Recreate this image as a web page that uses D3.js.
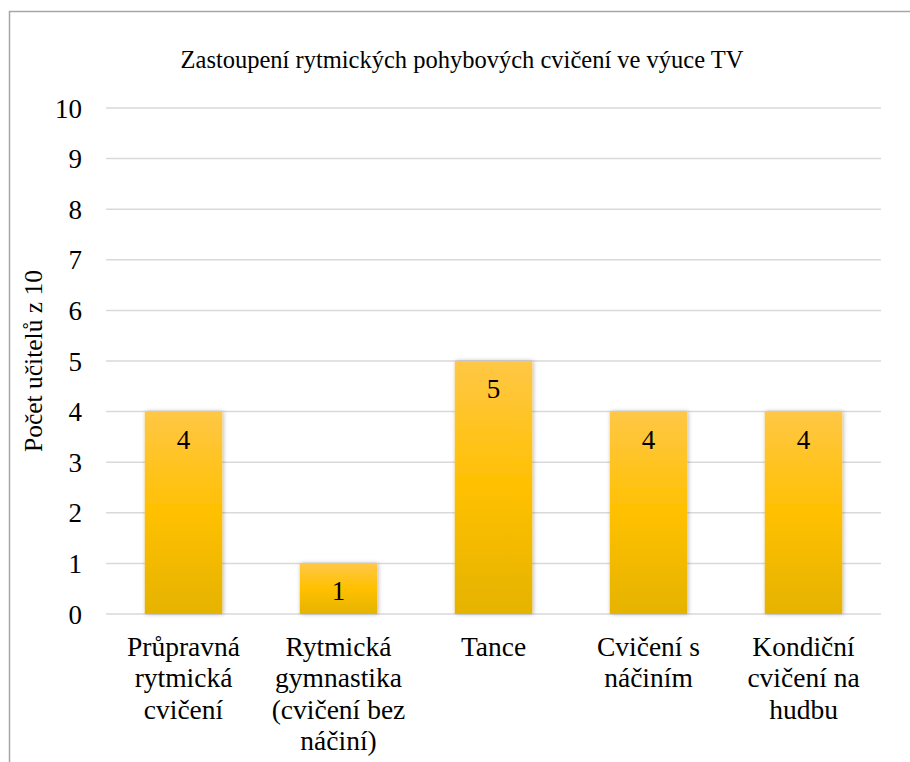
<!DOCTYPE html>
<html>
<head>
<meta charset="utf-8">
<script src="https://cdn.jsdelivr.net/npm/d3@7"></script>
</head>
<body style="margin:0">
<div id="wrapper"></div>
<script>
// data
const categories = [
  ['Průpravná', 'rytmická', 'cvičení'],
  ['Rytmická', 'gymnastika', '(cvičení bez', 'náčiní)'],
  ['Tance'],
  ['Cvičení s', 'náčiním'],
  ['Kondiční', 'cvičení na', 'hudbu'],
];
const values = [4, 1, 5, 4, 4];
const yTicks = [0, 1, 2, 3, 4, 5, 6, 7, 8, 9, 10];
const chartTitle = 'Zastoupení rytmických pohybových cvičení ve výuce TV';
const yTitle = 'Počet učitelů z 10';

const fontName = '"Times New Roman"';

const width = 910;
const height = 762;
const margin = { top: 108, right: 29, bottom: 148, left: 106 };
const boundedWidth = width - margin.left - margin.right;
const boundedHeight = height - margin.top - margin.bottom;

const svg = d3.select('#wrapper')
  .append('svg')
  .attr('width', width)
  .attr('height', height);

const defs = svg.append('defs');
const grad = defs.append('linearGradient')
  .attr('id', 'barGrad')
  .attr('x1', 0).attr('y1', 0).attr('x2', 0).attr('y2', 1);
grad.append('stop').attr('offset', '0%').attr('stop-color', '#ffc746');
grad.append('stop').attr('offset', '50%').attr('stop-color', '#ffc000');
grad.append('stop').attr('offset', '100%').attr('stop-color', '#e5b300');

defs.append('filter')
  .attr('id', 'shadow')
  .attr('x', '-20%').attr('y', '-10%').attr('width', '140%').attr('height', '120%')
  .append('feDropShadow')
  .attr('dx', 1).attr('dy', 0).attr('stdDeviation', 2)
  .attr('flood-color', '#000').attr('flood-opacity', 0.3);

// frame
svg.append('rect')
  .attr('x', 9.5).attr('y', 11.5)
  .attr('width', 930).attr('height', 800)
  .attr('fill', 'none')
  .attr('stroke', '#a6a6a6')
  .attr('stroke-width', 1.5);

const bounds = svg.append('g')
  .attr('transform', `translate(${margin.left}, ${margin.top})`);

// scales
const xScale = d3.scaleBand()
  .domain(d3.range(categories.length))
  .range([0, boundedWidth])
  .paddingInner(0.5)
  .paddingOuter(0.25);

const yScale = d3.scaleLinear()
  .domain([0, 10])
  .range([boundedHeight, 0]);

// gridlines
bounds.append('g')
  .selectAll('line')
  .data(yTicks)
  .join('line')
  .attr('x1', 0)
  .attr('x2', boundedWidth)
  .attr('y1', (d) => yScale(d))
  .attr('y2', (d) => yScale(d))
  .attr('stroke', '#d9d9d9')
  .attr('stroke-width', 1.5);

// y axis labels
const yAxis = bounds.append('g')
  .call(d3.axisLeft(yScale).tickValues(yTicks).tickSize(0).tickPadding(24));
yAxis.select('.domain').remove();
yAxis.selectAll('text')
  .attr('dy', '0.34em')
  .attr('fill', '#000')
  .attr('font-size', 27)
  .style('font-family', fontName);

// bars
bounds.append('g')
  .selectAll('rect')
  .data(values)
  .join('rect')
  .attr('x', (d, i) => xScale(i))
  .attr('y', (d) => yScale(d))
  .attr('width', xScale.bandwidth())
  .attr('height', (d) => boundedHeight - yScale(d))
  .attr('fill', 'url(#barGrad)')
  .attr('filter', 'url(#shadow)');

// value labels
bounds.append('g')
  .selectAll('text')
  .data(values)
  .join('text')
  .attr('x', (d, i) => xScale(i) + xScale.bandwidth() / 2)
  .attr('y', (d) => yScale(d) + 37)
  .attr('text-anchor', 'middle')
  .attr('font-size', 27)
  .style('font-family', fontName)
  .text((d) => d);

// category labels, one text per line
const catGroups = bounds.append('g')
  .selectAll('g')
  .data(categories)
  .join('g')
  .attr('transform', (d, i) =>
    `translate(${xScale(i) + xScale.bandwidth() / 2}, ${boundedHeight + 42})`);
catGroups.selectAll('text')
  .data((d) => d)
  .join('text')
  .attr('x', 0)
  .attr('y', (d, i) => i * 31.3)
  .attr('text-anchor', 'middle')
  .attr('font-size', 27.5)
  .style('font-family', fontName)
  .text((d) => d);

// titles
svg.append('text')
  .attr('x', 462)
  .attr('y', 68)
  .attr('text-anchor', 'middle')
  .attr('font-size', 24.5)
  .style('font-family', fontName)
  .text(chartTitle);

svg.append('text')
  .attr('transform', `translate(42, ${margin.top + boundedHeight / 2}) rotate(-90)`)
  .attr('text-anchor', 'middle')
  .attr('font-size', 25.5)
  .style('font-family', fontName)
  .text(yTitle);
</script>
</body>
</html>
